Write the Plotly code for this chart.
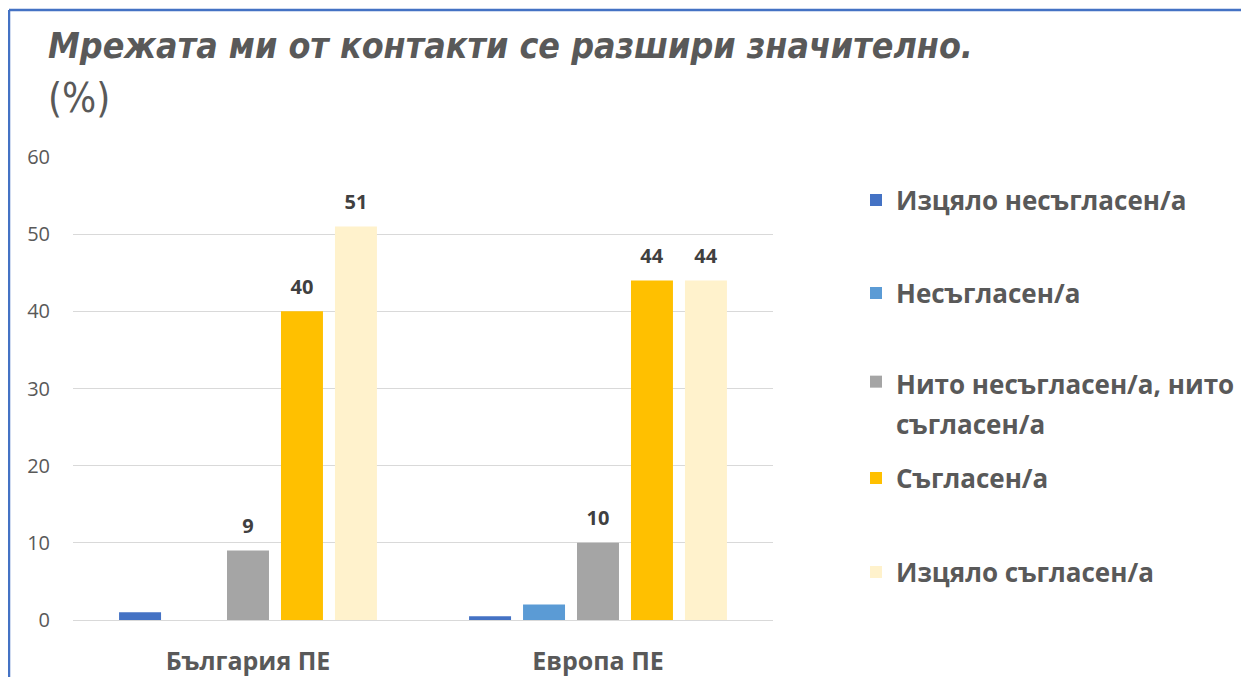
import plotly.graph_objects as go

categories = ["България ПЕ", "Европа ПЕ"]
series_names = [
    "Изцяло несъгласен/а",
    "Несъгласен/а",
    "<span style='font-size:26px'>Нито несъгласен/а, нито</span><br><span style='font-size:26px'>съгласен/а</span>",
    "Съгласен/а",
    "Изцяло съгласен/а",
]
series_colors = ["#4472C4", "#5B9BD5", "#A5A5A5", "#FFC000", "#FFF2CC"]
values_fully_disagree = [1, 0.5]
values_disagree = [0, 2]
values_neutral = [9, 10]
values_agree = [40, 44]
values_fully_agree = [51, 44]
label_fully_disagree = ["", ""]
label_disagree = ["", ""]
label_neutral = ["9", "10"]
label_agree = ["40", "44"]
label_fully_agree = ["51", "44"]
y_ticks = [0, 10, 20, 30, 40, 50, 60]

series_values = [values_fully_disagree, values_disagree, values_neutral, values_agree, values_fully_agree]
series_labels = [label_fully_disagree, label_disagree, label_neutral, label_agree, label_fully_agree]

# page has an 8px body margin; figure coordinates = screen - 8
W, H = 1241, 669
L, R, T, B = 65, 765, 149, 612

fig = go.Figure()
legend_centers = [192, 285, 377, 470, 564]
for i, (name, vals, labs, col) in enumerate(zip(series_names, series_values, series_labels, series_colors)):
    lg = "legend" if i == 0 else f"legend{i+1}"
    fig.add_trace(go.Bar(
        x=categories, y=vals, name=name, marker_color=col, marker_line_width=0,
        text=labs, textposition="outside", cliponaxis=False, constraintext="none",
        texttemplate="<span style='font-size:20px'>%{text}</span><br>\u00a0",
        textfont=dict(family="Open Sans", size=9, color="#404040", weight="bold"),
        legend=lg,
    ))

layout_legends = {}
for i, cy in enumerate(legend_centers):
    key = "legend" if i == 0 else f"legend{i+1}"
    d = dict(
        xref="container", yref="container", xanchor="left", yanchor="middle",
        bgcolor="rgba(0,0,0,0)", valign="top", x=848 / W, y=1 - cy / H,
        font=dict(family="Open Sans", size=26, color="#595959", weight="bold"),
    )
    if i == 2:
        d["yanchor"] = "top"
        d["y"] = 1 - (cy - 30) / H
        d["font"] = dict(family="Open Sans", size=31, color="#595959", weight="bold")
    layout_legends[key] = d

fig.update_layout(
    width=W, height=H,
    margin=dict(l=L, r=W - R, t=T, b=H - B, autoexpand=False),
    paper_bgcolor="white", plot_bgcolor="white",
    barmode="group", bargap=0.229, bargroupgap=0.222,
    showlegend=True,
    title=dict(
        text="<span style='font-size:35.5px'><b><i>Мрежата ми от контакти се разшири значително.</i></b></span><br><span style='font-size:40px'>(%)</span>",
        font=dict(family="DejaVu Sans Condensed, Liberation Sans", size=41.5, color="#595959"),
        xref="container", yref="container", x=40 / W, xanchor="left",
        y=1 - 50 / H, yanchor="top",
    ),
    xaxis=dict(
        showgrid=False, showline=False, zeroline=False,
        ticks="outside", ticklen=19, tickcolor="rgba(0,0,0,0)",
        tickfont=dict(family="Open Sans", size=25, color="#595959", weight="bold"),
    ),
    yaxis=dict(
        range=[0, 60], tickvals=y_ticks, showgrid=True, gridcolor="#D9D9D9", gridwidth=1.3,
        zeroline=True, zerolinecolor="#D9D9D9", zerolinewidth=1.3, showline=False,
        ticks="outside", ticklen=18, tickcolor="rgba(0,0,0,0)",
        tickfont=dict(family="Open Sans", size=20, color="#595959"),
    ),
    shapes=[
        dict(type="line", xref="paper", yref="paper",
             x0=(1 - L) / (R - L), x1=(1300 - L) / (R - L),
             y0=(B - 2) / (B - T), y1=(B - 2) / (B - T),
             line=dict(color="#4472C4", width=2.5), layer="above"),
        dict(type="line", xref="paper", yref="paper",
             x0=(1 - L) / (R - L), x1=(1 - L) / (R - L),
             y0=(B - 2) / (B - T), y1=(B - 700) / (B - T),
             line=dict(color="#4472C4", width=2.5), layer="above"),
    ],
    **layout_legends,
)

fig.write_html("out.html")
